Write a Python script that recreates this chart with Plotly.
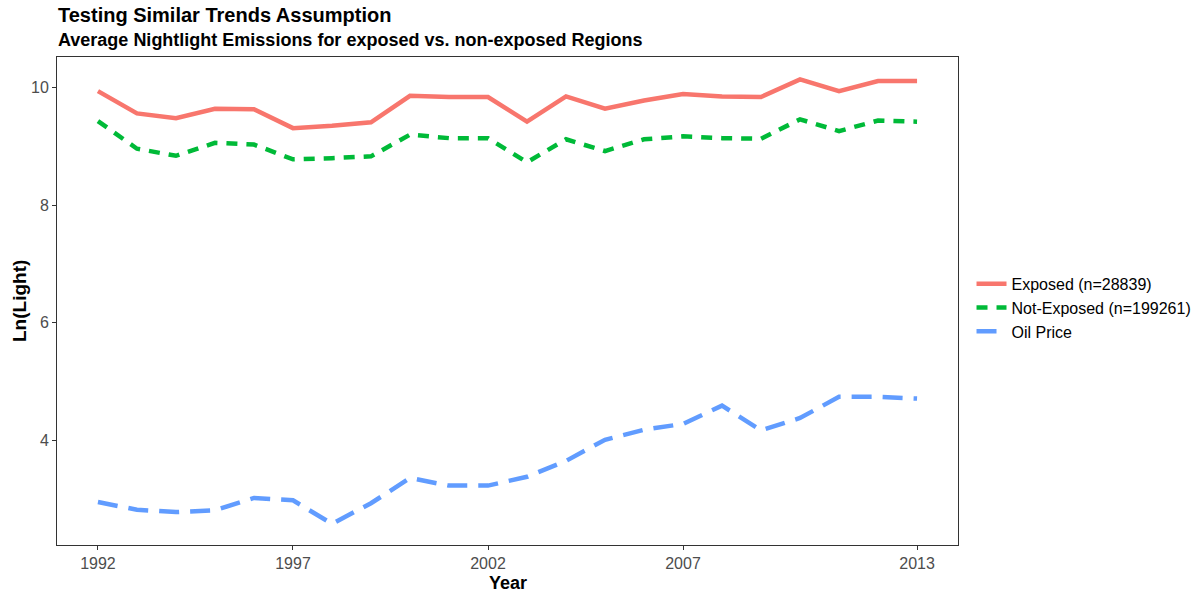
import plotly.graph_objects as go

years = list(range(1992, 2014))

exposed = [9.94, 9.56, 9.48, 9.64, 9.63, 9.31, 9.35, 9.41, 9.86, 9.84, 9.84,
           9.42, 9.85, 9.64, 9.78, 9.89, 9.85, 9.84, 10.14, 9.94, 10.11, 10.11]
not_exposed = [9.43, 8.96, 8.84, 9.06, 9.03, 8.78, 8.80, 8.83, 9.20, 9.14, 9.14,
               8.73, 9.12, 8.92, 9.12, 9.17, 9.14, 9.13, 9.46, 9.26, 9.44, 9.42]
oil_price = [2.95, 2.82, 2.78, 2.81, 3.02, 2.98, 2.58, 2.93, 3.36, 3.23, 3.23,
             3.38, 3.65, 4.01, 4.18, 4.28, 4.59, 4.17, 4.38, 4.74, 4.74, 4.71]

series_names = ["Exposed (n=28839)", "Not-Exposed (n=199261)", "Oil Price"]
x_ticks = [1992, 1997, 2002, 2007, 2013]
y_ticks = [4, 6, 8, 10]

FONT = "Liberation Sans, Arial, sans-serif"
W, H = 1201, 596
L, R, T, B = 57, 243, 57, 51
PH = H - T - B
PW = W - L - R

fig = go.Figure()
styles = [("#F8766D", "solid"), ("#00BA38", "11px,9px"), ("#619CFF", "20px,11px")]
for name, vals, (color, dash) in zip(series_names, [exposed, not_exposed, oil_price], styles):
    fig.add_trace(go.Scatter(
        x=years, y=vals, mode="lines", name=name,
        line=dict(color=color, width=4.5, dash=dash),
    ))

def paper_note(text, x, y, size, **kw):
    fig.add_annotation(text=text, xref="paper", yref="paper", x=x, y=y,
                       showarrow=False, borderpad=0,
                       font=dict(size=size, family=FONT, color="black"), **kw)

# titles (ggplot style, left-aligned to the panel)
paper_note("<b>Testing Similar Trends Assumption</b>",
           0, 1 + (T - 15) / PH, 20, xanchor="left", yanchor="middle")
paper_note("<b>Average Nightlight Emissions for exposed vs. non-exposed Regions</b>",
           0, 1 + (T - 40) / PH, 18, xanchor="left", yanchor="middle")
# axis titles
paper_note("<b>Year</b>", 0.5, -38 / PH, 18, xanchor="center", yanchor="middle")
paper_note("<b>Ln(Light)</b>", -38 / PW, 0.5, 19, xanchor="center", yanchor="middle",
           textangle=-90)

fig.update_layout(
    width=W, height=H,
    margin=dict(l=L, r=R, t=T, b=B, autoexpand=False),
    paper_bgcolor="white", plot_bgcolor="white",
    font=dict(family=FONT, color="black"),
    legend=dict(
        x=1.015, xanchor="left", y=0.486, yanchor="middle",
        font=dict(size=16, family=FONT, color="black"),
        tracegroupgap=0, itemwidth=30,
    ),
)
fig.update_xaxes(
    range=[1990.95, 2014.05], tickvals=x_ticks, automargin=False,
    showgrid=False, zeroline=False,
    showline=True, linecolor="#333333", linewidth=1, mirror=True,
    ticks="outside", ticklen=4, tickcolor="#333333",
    tickfont=dict(size=16, color="#4d4d4d"),
)
fig.update_yaxes(
    range=[2.22, 10.52], tickvals=y_ticks, automargin=False,
    showgrid=False, zeroline=False,
    showline=True, linecolor="#333333", linewidth=1, mirror=True,
    ticks="outside", ticklen=4, tickcolor="#333333",
    tickfont=dict(size=16, color="#4d4d4d"),
)

# drop the default body margin so the figure fills the window exactly
fig.write_html("out.html", config={"displayModeBar": False},
               post_script="document.body.style.margin='0';")
